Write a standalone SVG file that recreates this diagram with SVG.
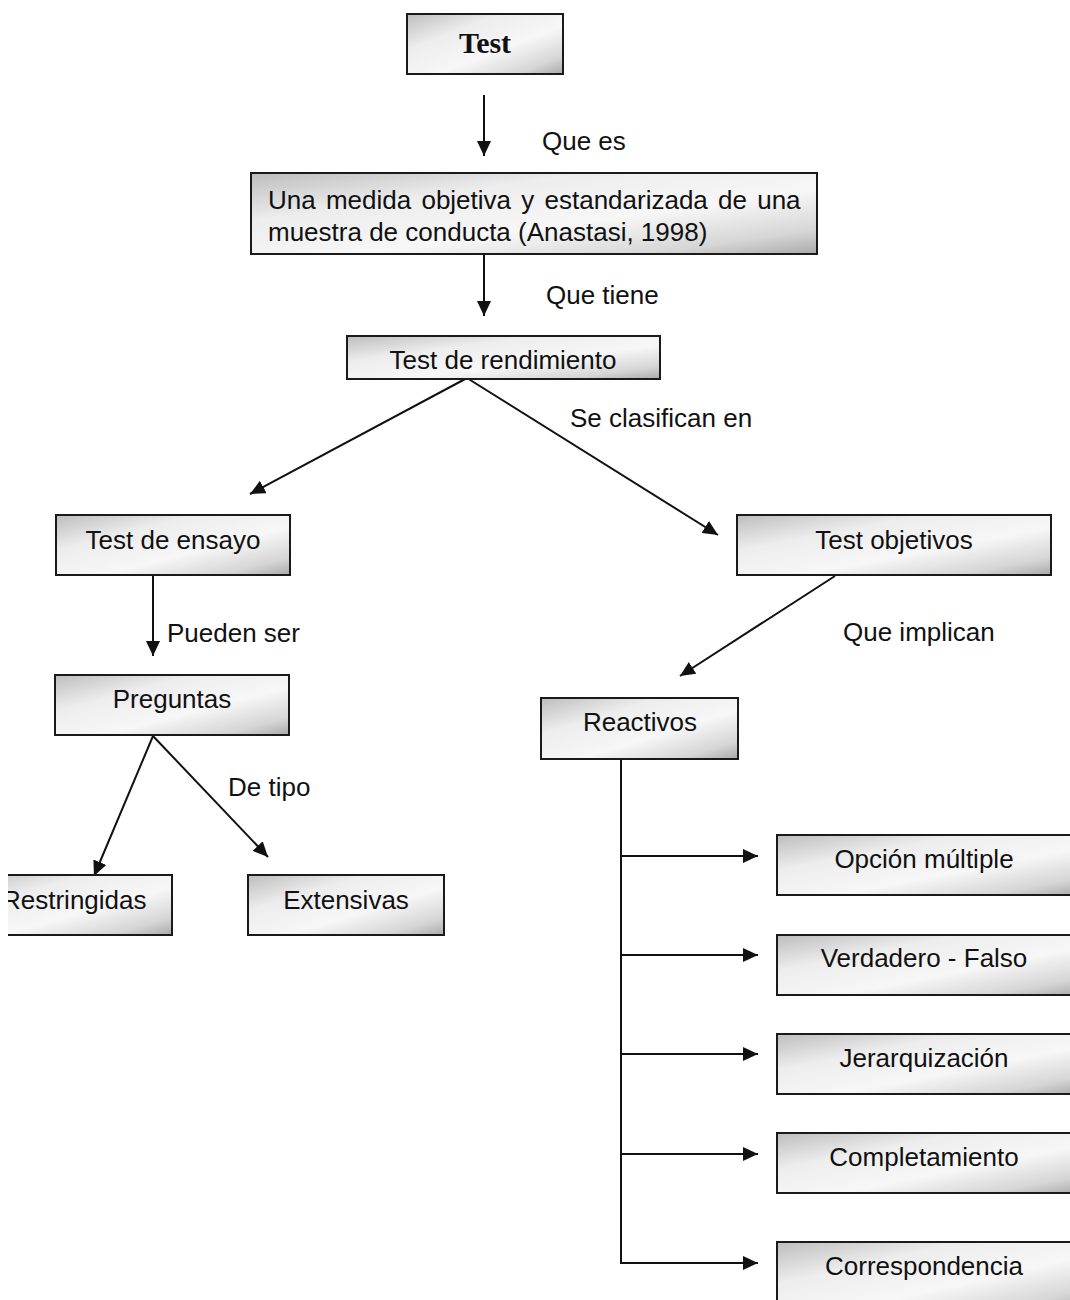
<svg xmlns="http://www.w3.org/2000/svg" width="1070" height="1300" viewBox="0 0 1070 1300">
<defs>
<linearGradient id="g" x1="0" y1="0" x2="1" y2="1">
<stop offset="0" stop-color="#bdbdbd"/>
<stop offset="0.3" stop-color="#ededed"/>
<stop offset="0.6" stop-color="#f7f7f7"/>
<stop offset="0.85" stop-color="#d6d6d6"/>
<stop offset="1" stop-color="#a9a9a9"/>
</linearGradient>
<marker id="ah" markerUnits="userSpaceOnUse" markerWidth="16" markerHeight="14" refX="15" refY="7" orient="auto">
<path d="M0,0 L15,7 L0,14 z" fill="#111"/>
</marker>
<clipPath id="leftclip"><rect x="8" y="0" width="1062" height="1300"/></clipPath>
</defs>
<style>
.box{fill:url(#g);stroke:#1a1a1a;stroke-width:2}
.t{font-family:"Liberation Sans",Arial,sans-serif;font-size:26px;fill:#111}
.c{text-anchor:middle}
.ln{stroke:#111;stroke-width:2;fill:none}
.ar{stroke:#111;stroke-width:2;fill:none;marker-end:url(#ah)}
</style>
<rect width="1070" height="1300" fill="#fff"/>

<g id="connectors">
<line class="ar" x1="484" y1="95" x2="484" y2="156"/>
<line class="ar" x1="484" y1="255" x2="484" y2="316"/>
<line class="ar" x1="467" y1="378" x2="250" y2="494"/>
<line class="ar" x1="467" y1="378" x2="718" y2="535"/>
<line class="ar" x1="153" y1="576" x2="153" y2="656"/>
<line class="ar" x1="153" y1="736" x2="94" y2="876"/>
<line class="ar" x1="153" y1="736" x2="268" y2="857"/>
<line class="ar" x1="835" y1="576" x2="680" y2="676"/>
<polyline class="ln" points="621,760 621,1263"/>
<line class="ar" x1="620" y1="856" x2="758" y2="856"/>
<line class="ar" x1="620" y1="955" x2="758" y2="955"/>
<line class="ar" x1="620" y1="1054" x2="758" y2="1054"/>
<line class="ar" x1="620" y1="1154" x2="758" y2="1154"/>
<line class="ar" x1="620" y1="1263" x2="758" y2="1263"/>
<text class="t" x="542" y="150">Que es</text>
<text class="t" x="546" y="304">Que tiene</text>
<text class="t" x="570" y="427">Se clasifican en</text>
<text class="t" x="167" y="642">Pueden ser</text>
<text class="t" x="228" y="796">De tipo</text>
<text class="t" x="843" y="641">Que implican</text>
</g>

<g id="n-test">
<rect class="box" x="407" y="14" width="156" height="60"/>
<text x="485" y="53" text-anchor="middle" font-family="'Liberation Serif','Times New Roman',serif" font-weight="bold" font-size="30" fill="#111">Test</text>
</g>

<g id="n-medida">
<rect class="box" x="251" y="173" width="566" height="81"/>
<text class="t" x="268" y="209" word-spacing="3">Una medida objetiva y estandarizada de una</text>
<text class="t" x="268" y="241">muestra de conducta (Anastasi, 1998)</text>
</g>

<g id="n-rendimiento">
<rect class="box" x="347" y="336" width="313" height="43"/>
<text class="t c" x="503" y="369">Test de rendimiento</text>
</g>

<g id="n-ensayo">
<rect class="box" x="56" y="515" width="234" height="60"/>
<text class="t c" x="173" y="549">Test de ensayo</text>
</g>

<g id="n-objetivos">
<rect class="box" x="737" y="515" width="314" height="60"/>
<text class="t c" x="894" y="549">Test objetivos</text>
</g>

<g id="n-preguntas">
<rect class="box" x="55" y="675" width="234" height="60"/>
<text class="t c" x="172" y="708">Preguntas</text>
</g>

<g id="n-restringidas" clip-path="url(#leftclip)">
<rect class="box" x="-40" y="875" width="212" height="60"/>
<text class="t" x="2" y="909">Restringidas</text>
</g>

<g id="n-extensivas">
<rect class="box" x="248" y="875" width="196" height="60"/>
<text class="t c" x="346" y="909">Extensivas</text>
</g>

<g id="n-reactivos">
<rect class="box" x="541" y="698" width="197" height="61"/>
<text class="t c" x="640" y="731">Reactivos</text>
</g>

<g id="n-opcion">
<rect class="box" x="777" y="835" width="305" height="60"/>
<text class="t c" x="924" y="868">Opción múltiple</text>
</g>

<g id="n-verdadero">
<rect class="box" x="777" y="935" width="305" height="60"/>
<text class="t c" x="924" y="967">Verdadero - Falso</text>
</g>

<g id="n-jerarquizacion">
<rect class="box" x="777" y="1034" width="305" height="60"/>
<text class="t c" x="924" y="1067">Jerarquización</text>
</g>

<g id="n-completamiento">
<rect class="box" x="777" y="1133" width="305" height="60"/>
<text class="t c" x="924" y="1166">Completamiento</text>
</g>

<g id="n-correspondencia">
<rect class="box" x="777" y="1242" width="305" height="70"/>
<text class="t c" x="924" y="1275">Correspondencia</text>
</g>
</svg>
